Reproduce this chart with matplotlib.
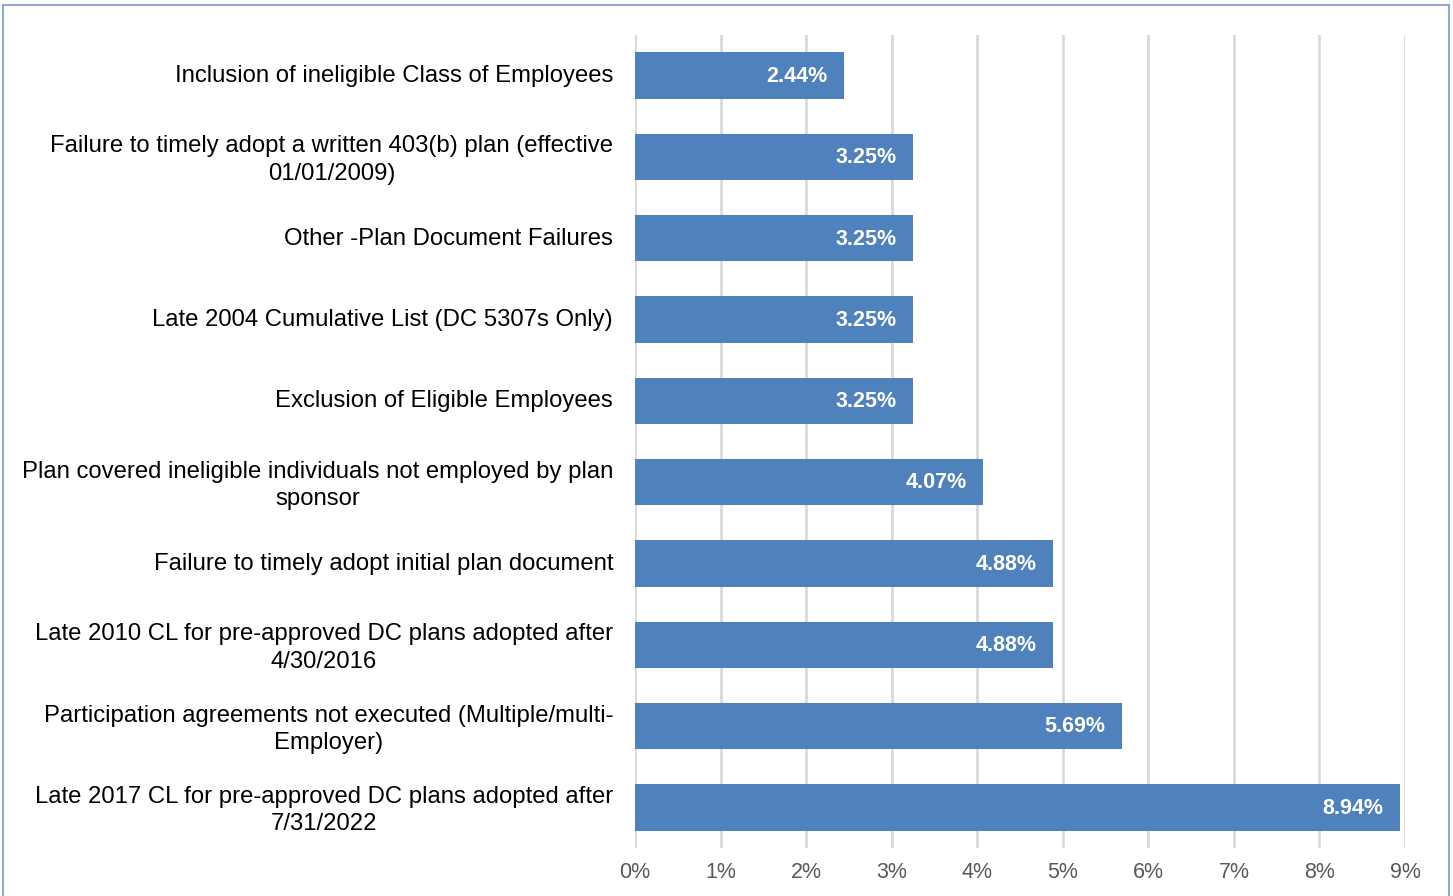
import matplotlib
matplotlib.use('Agg')
import matplotlib.pyplot as plt
from matplotlib.patches import Rectangle
from matplotlib.ticker import FuncFormatter

# failure categories, top to bottom
categories = [
    "Inclusion of ineligible Class of Employees",
    "Failure to timely adopt a written 403(b) plan (effective\n01/01/2009)",
    "Other -Plan Document Failures",
    "Late 2004 Cumulative List (DC 5307s Only)",
    "Exclusion of Eligible Employees",
    "Plan covered ineligible individuals not employed by plan\nsponsor",
    "Failure to timely adopt initial plan document",
    "Late 2010 CL for pre-approved DC plans adopted after\n4/30/2016",
    "Participation agreements not executed (Multiple/multi-\nEmployer)",
    "Late 2017 CL for pre-approved DC plans adopted after\n7/31/2022",
]
shares = [2.44, 3.25, 3.25, 3.25, 3.25, 4.07, 4.88, 4.88, 5.69, 8.94]
x_ticks = list(range(0, 10))

plt.rcParams['font.family'] = ['Liberation Sans', 'DejaVu Sans']

fig = plt.figure(figsize=(14.53, 8.96), dpi=100)
ax = fig.add_axes([635 / 1453, 1 - 848 / 896, 770 / 1453, 813 / 896])

ypos = list(range(len(categories)))
bars = ax.barh(ypos, shares, height=0.57, color='#4F81BD', zorder=3)

for y, v in zip(ypos, shares):
    ax.text(v - 0.19, y + 0.01, f"{v:.2f}%", ha='right', va='center',
            color='white', fontsize=15.5, fontweight='bold', zorder=4)

ax.set_xlim(0, 9)
ax.set_ylim(len(categories) - 0.5, -0.5)
ax.set_xticks(x_ticks)
ax.xaxis.set_major_formatter(FuncFormatter(lambda v, p: f"{v:.0f}%"))
ax.set_yticks(ypos)
ax.set_yticklabels(categories, fontsize=17.2, color='black', ha='center',
                   multialignment='center', linespacing=1.32)
ax.tick_params(axis='y', length=0)
ax.tick_params(axis='x', length=0, labelsize=15.5, labelcolor='#595959', pad=10)

# center each label block so its right edge lands before the axis
fig.canvas.draw()
renderer = fig.canvas.get_renderer()
for lbl in ax.get_yticklabels():
    w = lbl.get_window_extent(renderer).width
    lbl.set_x(0)
    lbl.set_transform(ax.get_yaxis_transform() + matplotlib.transforms.ScaledTranslation(
        -(22 + w / 2) / 100, 0.02, fig.dpi_scale_trans))

ax.grid(axis='x', color='#D9D9D9', linewidth=2, zorder=0)
for s in ax.spines.values():
    s.set_visible(False)

# chart area frame
fig.patches.append(Rectangle((3 / 1453, -0.01), 1446 / 1453, 1 - 5 / 896 + 0.01,
                             transform=fig.transFigure, fill=False,
                             edgecolor='#8EA9D0', linewidth=1.5))

fig.savefig('out.png', dpi=100)
